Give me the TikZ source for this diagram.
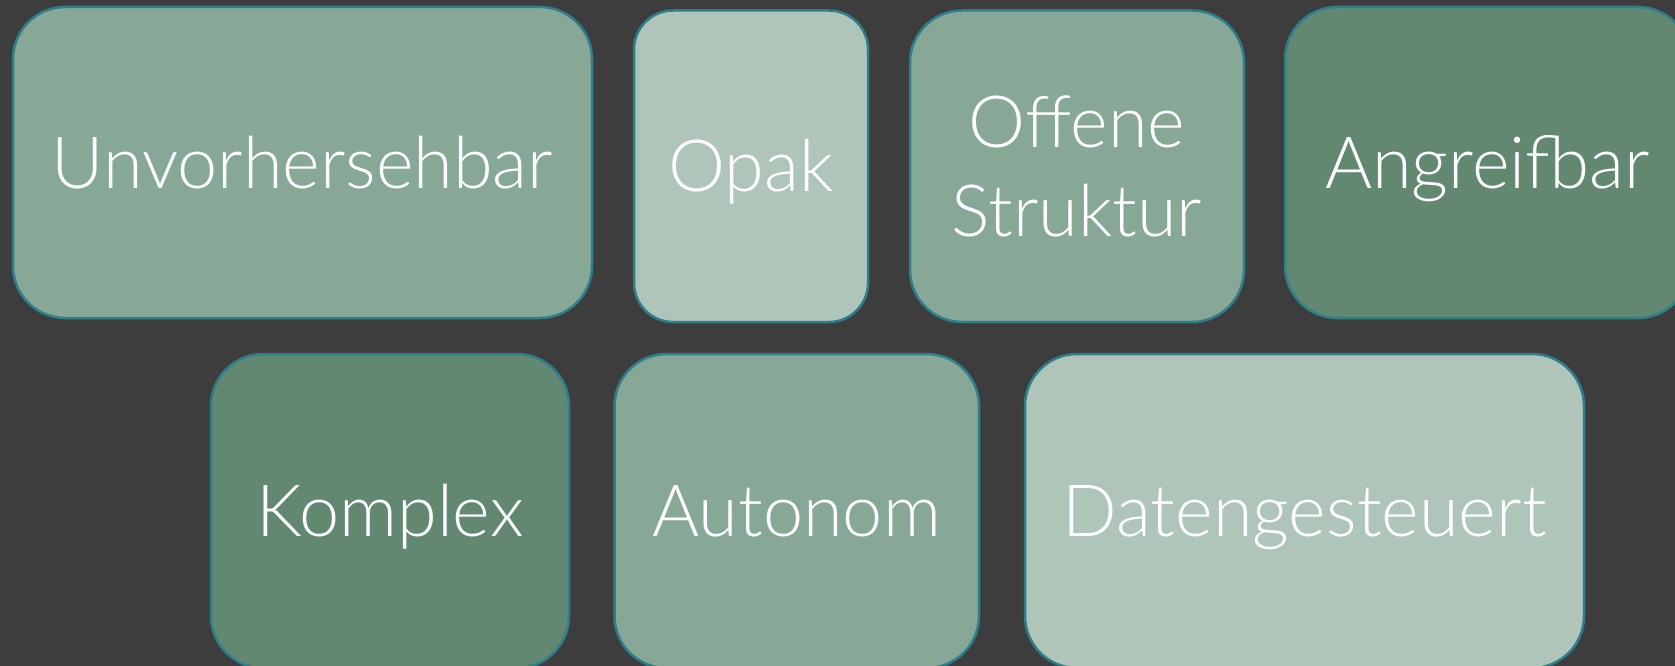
\documentclass[tikz,border=0pt]{standalone}
\usepackage{fontspec}
\setmainfont{Lato}[UprightFont=* Light]
\definecolor{bgc}{HTML}{3D3D3D}
\definecolor{edgec}{HTML}{2E7F8B}
\definecolor{darkg}{HTML}{628872}
\definecolor{midg}{HTML}{87A897}
\definecolor{lightg}{HTML}{AFC5B9}
\tikzset{
  card/.style={draw=edgec, line width=2.5pt, rounded corners=52pt, inner sep=0pt,
    text=white, align=center, font=\fontsize{72}{89}\selectfont,
    text height=51pt, text depth=0pt},
}
\begin{document}
\begin{tikzpicture}[x=1pt,y=-1pt]
\fill[bgc] (0,0) rectangle (1675,666);
\useasboundingbox (0,0) rectangle (1675,666);
\clip (0,0) rectangle (1675,666);
\node[card, fill=midg, minimum width=579pt, minimum height=311pt] (u) at (302.5,162.5) {Unvorhersehbar};
\node[card, fill=lightg, rounded corners=39pt, minimum width=234pt, minimum height=311.5pt] (opak) at (751,166.25) {Opak};
\node[card, fill=midg, text height=140pt, minimum width=334pt, minimum height=311.5pt] (off) at (1077,166.25) {Offene\\Struktur};
\node[card, fill=darkg, minimum width=405pt, minimum height=311pt] (ang) at (1487.5,162.5) {Angreifbar};
\node[card, fill=darkg, minimum width=358pt, minimum height=314pt] (kom) at (390,511) {Komplex};
\node[card, fill=midg, minimum width=364.5pt, minimum height=314pt] (aut) at (796.75,511) {Autonom};
\node[card, fill=lightg, minimum width=559pt, minimum height=314pt] (dat) at (1304.5,511) {Datengesteuert};
\end{tikzpicture}
\end{document}
